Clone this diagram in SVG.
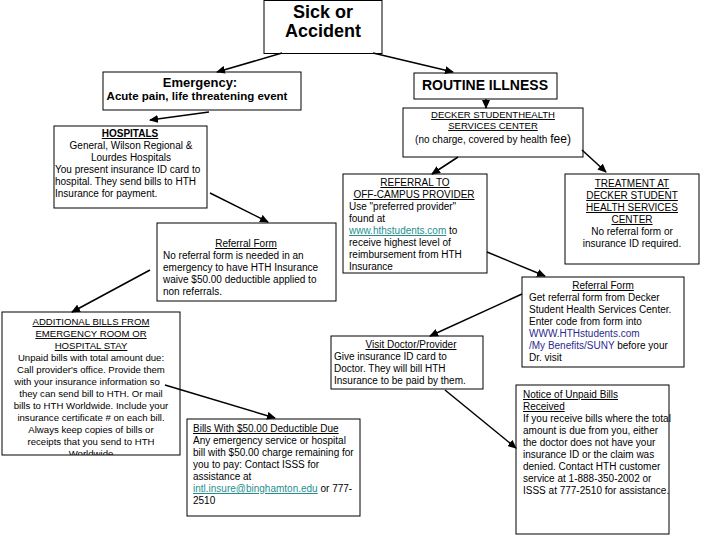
<svg xmlns="http://www.w3.org/2000/svg" width="720" height="540" viewBox="0 0 720 540">
<style>
.box{fill:#fff;stroke:#000;stroke-width:1}
text{font-family:"Liberation Sans",Arial,sans-serif;font-size:10px;fill:#000}
.c{text-anchor:middle}
.b{font-weight:bold}
.u{text-decoration:underline}
.sm{font-size:9.6px}
.lnk{fill:#1f8f8f;text-decoration:underline}
.blu{fill:#2b2b8f}
.con line{stroke:#000;stroke-width:1.5;marker-end:url(#ah)}
</style>
<defs>
<marker id="ah" markerWidth="9" markerHeight="8" refX="8" refY="4" orient="auto" markerUnits="userSpaceOnUse"><path d="M0,0 L9,4 L0,8 z" fill="#000"/></marker>
<clipPath id="clipAdd"><rect x="2" y="312" width="178" height="143"/></clipPath>
</defs>
<rect width="720" height="540" fill="#fff"/>

<g id="sick">
<rect class="box" x="264" y="0.5" width="118" height="53"/>
<text class="c b" x="323" y="18" style="font-size:18px">Sick or</text>
<text class="c b" x="323" y="37" style="font-size:18px">Accident</text>
</g>

<g id="emergency">
<rect class="box" x="103" y="72" width="198" height="38"/>
<text class="c b" x="200" y="87" style="font-size:13px">Emergency:</text>
<text class="c b" x="197" y="100" style="font-size:11.5px">Acute pain, life threatening event</text>
</g>

<g id="routine">
<rect class="box" x="414" y="73" width="143" height="26"/>
<text class="c b" x="485" y="90" style="font-size:14px">ROUTINE ILLNESS</text>
</g>

<g id="decker">
<rect class="box" x="403" y="108" width="180" height="49"/>
<text class="c u" x="493" y="118" style="font-size:9.5px">DECKER STUDENTHEALTH</text>
<text class="c u" x="493" y="129" style="font-size:9.5px">SERVICES CENTER</text>
<text class="c" x="493" y="143">(no charge, covered by health <tspan style="font-size:12px">fee)</tspan></text>
</g>

<g id="hospitals">
<rect class="box" x="54" y="126" width="153" height="82"/>
<text class="c b u" x="130" y="137">HOSPITALS</text>
<text class="c" x="131" y="149">General, Wilson Regional &amp;</text>
<text class="c" x="131" y="161">Lourdes Hospitals</text>
<text x="55" y="173">You present insurance ID card to</text>
<text x="55" y="185">hospital. They send bills to HTH</text>
<text x="55" y="197">Insurance for payment.</text>
</g>

<g id="referral-emergency">
<rect class="box" x="157" y="223" width="179" height="78"/>
<text class="c u" x="246" y="247">Referral Form</text>
<text x="163" y="259">No referral form is needed in an</text>
<text x="163" y="271">emergency to have HTH Insurance</text>
<text x="163" y="283">waive $50.00 deductible applied to</text>
<text x="163" y="295">non referrals.</text>
</g>

<g id="additional-bills">
<rect class="box" x="2" y="312" width="178" height="143"/>
<g clip-path="url(#clipAdd)">
<text class="c u sm" x="91" y="325">ADDITIONAL BILLS FROM</text>
<text class="c u sm" x="91" y="337">EMERGENCY ROOM  OR</text>
<text class="c u sm" x="91" y="349">HOSPITAL STAY</text>
<text class="c sm" x="91" y="361">Unpaid bills with total amount due:</text>
<text class="c sm" x="91" y="373">Call provider's office. Provide them</text>
<text class="c sm" x="87" y="385">with your insurance information so</text>
<text class="c sm" x="91" y="397">they can send bill to HTH. Or mail</text>
<text class="c sm" x="91" y="409">bills to HTH Worldwide.  Include your</text>
<text class="c sm" x="91" y="421">insurance certificate # on each bill.</text>
<text class="c sm" x="91" y="433">Always keep copies of bills or</text>
<text class="c sm" x="91" y="445">receipts that you send to HTH</text>
<text class="c sm" x="91" y="457">Worldwide</text>
</g>
</g>

<g id="bills-deductible">
<rect class="box" x="187" y="419" width="173" height="97"/>
<text class="u" x="193" y="432">Bills With $50.00 Deductible Due</text>
<text x="193" y="444">Any emergency service or hospital</text>
<text x="193" y="456">bill with $50.00 charge remaining for</text>
<text x="193" y="468">you to pay: Contact ISSS for</text>
<text x="193" y="480">assistance at</text>
<text x="193" y="492"><tspan class="lnk">intl.insure@binghamton.edu</tspan> or 777-</text>
<text x="193" y="504">2510</text>
</g>

<g id="off-campus">
<rect class="box" x="343" y="174" width="144" height="99"/>
<text class="c u" x="415" y="186">REFERRAL TO</text>
<text class="c u" x="414" y="198">OFF-CAMPUS PROVIDER</text>
<text x="349" y="210"> Use "preferred provider"</text>
<text x="349" y="222">found at</text>
<text x="349" y="234"><tspan class="lnk">www.hthstudents.com</tspan> to</text>
<text x="349" y="246">receive highest level of</text>
<text x="349" y="258">reimbursement from HTH</text>
<text x="349" y="270">Insurance</text>
</g>

<g id="treatment">
<rect class="box" x="565" y="174" width="134" height="90"/>
<text class="c u" x="632" y="187">TREATMENT AT</text>
<text class="c u" x="632" y="199">DECKER STUDENT</text>
<text class="c u" x="632" y="211">HEALTH SERVICES</text>
<text class="c u" x="632" y="223">CENTER</text>
<text class="c" x="632" y="235">No referral form or</text>
<text class="c" x="632" y="247">insurance ID required.</text>
</g>

<g id="referral-routine">
<rect class="box" x="522" y="277" width="162" height="90"/>
<text class="c u" x="603" y="289">Referral Form</text>
<text x="529" y="301"> Get referral form from Decker</text>
<text x="529" y="313">Student Health Services Center.</text>
<text x="529" y="325">Enter code from form into</text>
<text class="blu" x="529" y="337">WWW.HTHstudents.com</text>
<text x="529" y="349"><tspan class="blu">/My Benefits/SUNY</tspan> before your</text>
<text x="529" y="361">Dr. visit</text>
</g>

<g id="visit-doctor">
<rect class="box" x="331" y="336" width="152" height="53"/>
<text class="c u" x="411" y="348">Visit Doctor/Provider</text>
<text x="334" y="360">Give insurance ID card to</text>
<text x="334" y="372">Doctor. They will bill HTH</text>
<text x="334" y="384">Insurance to be paid by them.</text>
</g>

<g id="notice-unpaid">
<rect class="box" x="516" y="385" width="153" height="149"/>
<text class="u" x="523" y="398">Notice of Unpaid Bills</text>
<text class="u" x="523" y="410">Received </text>
<text x="523" y="422">If you receive bills where the total</text>
<text x="523" y="434">amount is due from you, either</text>
<text x="523" y="446">the doctor does not have your</text>
<text x="523" y="458">insurance ID or the claim was</text>
<text x="523" y="470">denied. Contact HTH customer</text>
<text x="523" y="482">service at 1-888-350-2002 or</text>
<text x="523" y="494">ISSS at 777-2510 for assistance.</text>
</g>

<g id="connectors" class="con">
<line x1="282" y1="53" x2="217" y2="72"/>
<line x1="373" y1="53" x2="453" y2="72"/>
<line x1="486" y1="99" x2="486" y2="108"/>
<line x1="209" y1="112" x2="150" y2="120"/>
<line x1="210" y1="193" x2="268" y2="222"/>
<line x1="150" y1="270" x2="72" y2="312"/>
<line x1="165" y1="385" x2="275" y2="418"/>
<line x1="458" y1="157" x2="432" y2="174"/>
<line x1="582" y1="150" x2="606" y2="172"/>
<line x1="487" y1="252" x2="545" y2="276"/>
<line x1="522" y1="294" x2="430" y2="336"/>
<line x1="445" y1="390" x2="516" y2="448"/>
</g>
</svg>
